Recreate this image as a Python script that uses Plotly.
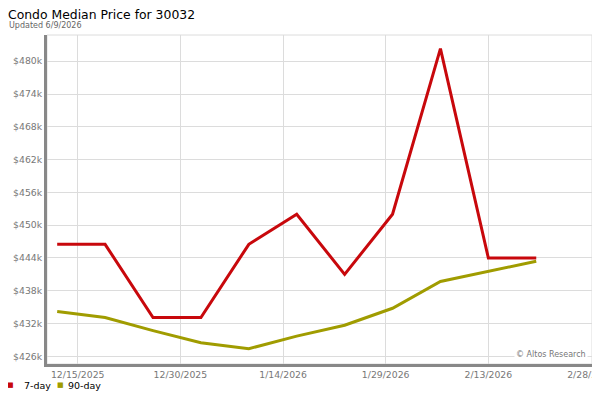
import plotly.graph_objects as go

dates = ["2025-12-12", "2025-12-19", "2025-12-26", "2026-01-02", "2026-01-09",
         "2026-01-16", "2026-01-23", "2026-01-30", "2026-02-06", "2026-02-13", "2026-02-20"]
seven_day = [446500, 446500, 433100, 433100, 446500, 452000, 441000, 452000, 482300, 444000, 444000]
ninety_day = [434200, 433100, 430700, 428500, 427400, 429700, 431700, 434800, 439700, 441600, 443400]

x_tick_vals = ["2025-12-15", "2025-12-30", "2026-01-14", "2026-01-29", "2026-02-13", "2026-02-28"]
x_tick_text = ["12/15/2025", "12/30/2025", "1/14/2026", "1/29/2026", "2/13/2026", "2/28/2026"]
y_tick_vals = [426000, 432000, 438000, 444000, 450000, 456000, 462000, 468000, 474000, 480000]
y_tick_text = ["$426k", "$432k", "$438k", "$444k", "$450k", "$456k", "$462k", "$468k", "$474k", "$480k"]

series_names = ["7-day", "90-day"]
colors = ["#c8080c", "#a09c00"]

FONT = "DejaVu Sans"
W, H = 600, 400
ML, MR, MT, MB = 39, 16, 27, 44
PW, PH = W - ML - MR, H - MT - MB


def px(x):
    return (x - ML) / PW


def py(y):
    return (H - MB - y) / PH


fig = go.Figure()
for name, vals, col in zip(series_names, [seven_day, ninety_day], colors):
    fig.add_trace(go.Scatter(x=dates, y=vals, mode="lines", name=name,
                             line=dict(color=col, width=3), showlegend=False,
                             hoverinfo="skip", cliponaxis=False))

annotations = [
    dict(text="Updated 6/9/2026", xref="paper", yref="paper",
         x=px(-1), y=py(17), xanchor="left", yanchor="middle",
         showarrow=False, font=dict(family=FONT, size=8, color="#666")),
    dict(text="© Altos Research", xref="paper", yref="paper",
         x=px(580), y=py(346), xanchor="right", yanchor="middle",
         showarrow=False, bgcolor="white", borderpad=1,
         font=dict(family=FONT, size=8, color="#777")),
]
# legend: colored square + label
legend_sq_x = [2, 52]
legend_txt_x = [14, 58]
for name, col, sx, tx in zip(series_names, colors, legend_sq_x, legend_txt_x):
    annotations.append(dict(text="■", xref="paper", yref="paper", x=px(sx), y=py(377),
                            xanchor="center", yanchor="middle", showarrow=False,
                            font=dict(family=FONT, size=7, color=col)))
    annotations.append(dict(text=name, xref="paper", yref="paper", x=px(tx), y=py(377),
                            xanchor="left", yanchor="middle", showarrow=False,
                            font=dict(family=FONT, size=9.5, color="#000")))

fig.update_layout(
    width=W, height=H,
    margin=dict(l=ML, r=MR, t=MT, b=MB, autoexpand=False),
    paper_bgcolor="white", plot_bgcolor="white",
    font=dict(family=FONT, size=10, color="#000"),
    showlegend=False,
    title=dict(text="Condo Median Price for 30032",
               font=dict(family=FONT, size=12.4, color="#000"),
               x=0, xanchor="left", xref="container",
               y=1 - 6.5 / H, yanchor="middle", yref="container",
               automargin=False),
    xaxis=dict(type="date", range=["2025-12-10 12:15", "2026-02-28 03:30"],
               tickvals=x_tick_vals, ticktext=x_tick_text,
               tickfont=dict(family=FONT, size=9.3, color="#777"),
               ticklabeloverflow="allow",
               showgrid=True, gridcolor="#dcdcdc", gridwidth=1,
               showline=True, linecolor="#888", linewidth=3,
               ticks="", zeroline=False, fixedrange=True, automargin=False),
    yaxis=dict(range=[424600, 484800],
               tickvals=y_tick_vals, ticktext=y_tick_text,
               tickfont=dict(family=FONT, size=9.3, color="#777"),
               showgrid=True, gridcolor="#dcdcdc", gridwidth=1,
               showline=True, linecolor="#888", linewidth=3,
               ticks="", zeroline=False, fixedrange=True, automargin=False),
    shapes=[
        dict(type="rect", xref="paper", yref="paper", x0=0, x1=1, y0=0, y1=1,
             line=dict(color="#dcdcdc", width=1), layer="below"),
        dict(type="line", xref="paper", yref="paper", x0=1, x1=px(586),
             y0=py(357.5), y1=py(357.5),
             line=dict(color="#888", width=3), layer="above"),
    ],
    annotations=annotations,
)

fig.write_html("out.html")
